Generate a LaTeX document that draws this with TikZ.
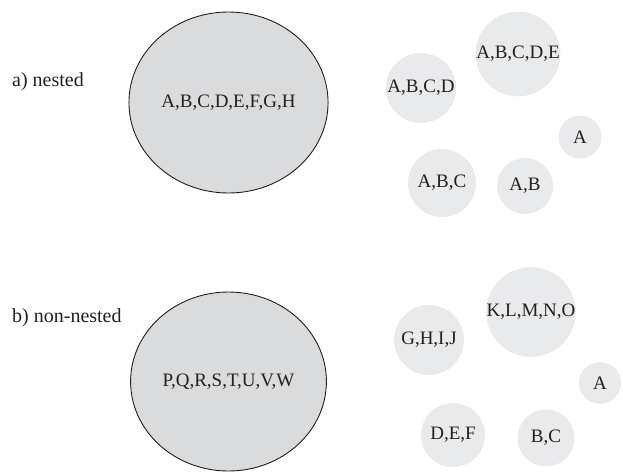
\documentclass[tikz,border=0pt]{standalone}
\usepackage{fontspec}
\setmainfont{Liberation Serif}
\definecolor{bigfill}{RGB}{218,219,221}
\definecolor{smallfill}{RGB}{233,234,236}
\definecolor{txt}{RGB}{35,31,32}
\tikzset{
  bigset/.style={ellipse, draw=txt, line width=0.9pt, fill=bigfill, text=txt, font=\fontsize{19}{22}\selectfont},
  smallset/.style={circle, fill=smallfill, text=txt, inner sep=0pt, font=\fontsize{19}{22}\selectfont},
  caption/.style={anchor=west, text=txt, inner sep=0pt, font=\fontsize{20}{24}\selectfont}
}
\usetikzlibrary{shapes.geometric}
\begin{document}
\begin{tikzpicture}[x=1pt,y=-1pt]
\useasboundingbox (0,0) rectangle (623,472);
% a) nested
\node[caption] (la) at (12,82) {a) nested};
\node[bigset, minimum width=193pt, minimum height=181pt] (na) at (228.5,102.5) {A,B,C,D,E,F,G,H};
\node[smallset, minimum size=84pt] (a5) at (518,54) {A,B,C,D,E};
\node[smallset, minimum size=70pt] (a4) at (421,88) {A,B,C,D};
\node[smallset, minimum size=43pt] (a1) at (580,137) {A};
\node[smallset, minimum size=68pt] (a3) at (442,183) {A,B,C};
\node[smallset, minimum size=56pt] (a2) at (525,186) {A,B};
% b) non-nested
\node[caption] (lb) at (12,318) {b) non-nested};
\node[bigset, minimum width=193pt, minimum height=179pt] (nb) at (228.5,381.5) {P,Q,R,S,T,U,V,W};
\node[smallset, minimum size=84pt] (b5) at (531,312) {K,L,M,N,O};
\node[smallset, minimum size=70pt] (b4) at (429,340) {G,H,I,J};
\node[smallset, minimum size=42pt] (b1) at (600,383) {A};
\node[smallset, minimum size=64pt] (b3) at (453,435) {D,E,F};
\node[smallset, minimum size=57pt] (b2) at (546,438) {B,C};
\end{tikzpicture}
\end{document}
